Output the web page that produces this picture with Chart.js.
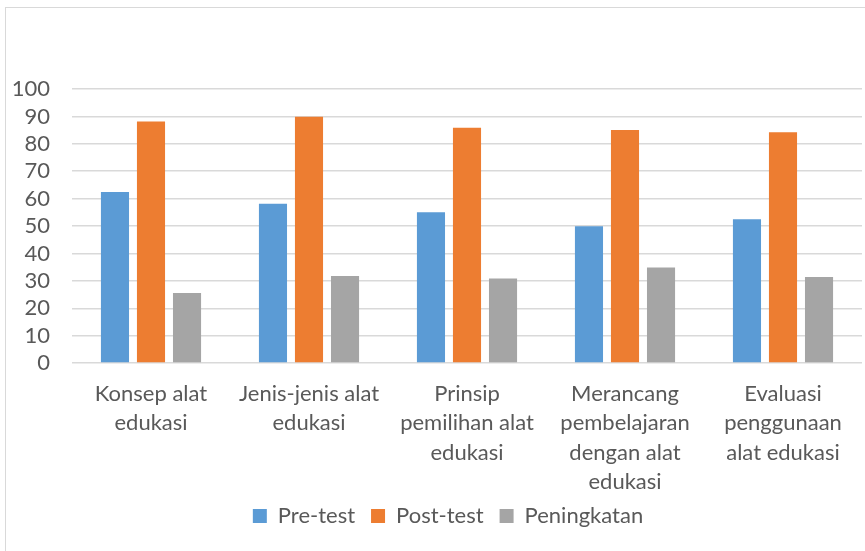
<!DOCTYPE html>
<html>
<head>
<meta charset="utf-8">
<script src="https://cdn.jsdelivr.net/npm/chart.js@4"></script>
<style>
    body { margin: 0; background: #fff; }
    #frame { position: absolute; left: 5px; top: 7px; width: 900px; height: 600px;
             border-top: 1px solid #d9d9d9; border-left: 1px solid #d9d9d9; }
    #wrap { position: absolute; left: 0; top: 0; width: 865px; height: 551px; }
</style>
</head>
<body>
<div id="frame"></div>
<div id="wrap"><canvas id="myChart"></canvas></div>
<script>
const categories = [
    ["Konsep alat", "edukasi"],
    ["Jenis-jenis alat", "edukasi"],
    ["Prinsip", "pemilihan alat", "edukasi"],
    ["Merancang", "pembelajaran", "dengan alat", "edukasi"],
    ["Evaluasi", "penggunaan", "alat edukasi"]
];
const preTest = [62.4, 58.1, 55.0, 49.9, 52.5];
const postTest = [88.1, 89.9, 85.9, 85.0, 84.2];
const peningkatan = [25.6, 31.8, 30.9, 34.9, 31.4];
const yTicks = [0, 10, 20, 30, 40, 50, 60, 70, 80, 90, 100];

Chart.defaults.font.family = 'Lato, "Open Sans", sans-serif';
Chart.defaults.color = '#595959';

// nudge the legend a bit to the right, like the original
const legendShift = {
    id: 'legendShift',
    afterLayout(chart) {
        chart.legend.left += 17;
        chart.legend.right += 17;
    }
};

let ctx = document.getElementById('myChart').getContext('2d');
let myChart = new Chart(ctx, {
    type: 'bar',
    data: {
        labels: categories,
        datasets: [
            { label: 'Pre-test', data: preTest, backgroundColor: '#5b9bd5' },
            { label: 'Post-test', data: postTest, backgroundColor: '#ed7d31' },
            { label: 'Peningkatan', data: peningkatan, backgroundColor: '#a5a5a5' }
        ]
    },
    options: {
        responsive: true,
        maintainAspectRatio: false,
        animation: false,
        categoryPercentage: 0.684,
        barPercentage: 0.78,
        layout: { padding: { top: 89, left: 0, right: 3, bottom: 14 } },
        plugins: {
            tooltip: { enabled: false },
            legend: {
                position: 'bottom',
                labels: {
                    boxWidth: 14,
                    boxHeight: 14,
                    padding: 16,
                    font: { size: 22 },
                    color: '#595959'
                }
            }
        },
        scales: {
            x: {
                grid: { display: false },
                border: { display: false },
                afterFit: axis => { axis.height -= 16; },
                ticks: {
                    maxRotation: 0,
                    autoSkip: false,
                    padding: 8,
                    font: { size: 22, lineHeight: 1.34 },
                    color: '#595959'
                }
            },
            y: {
                min: 0,
                max: 100,
                afterBuildTicks: axis => { axis.ticks = yTicks.map(v => ({ value: v })); },
                afterFit: axis => { axis.width = 72; },
                grid: { color: '#d9d9d9', lineWidth: 1.5, drawTicks: false },
                border: { display: false },
                ticks: {
                    autoSkip: false,
                    padding: 22,
                    font: { size: 22 },
                    color: '#595959'
                }
            }
        }
    },
    plugins: [legendShift]
});
</script>
</body>
</html>
